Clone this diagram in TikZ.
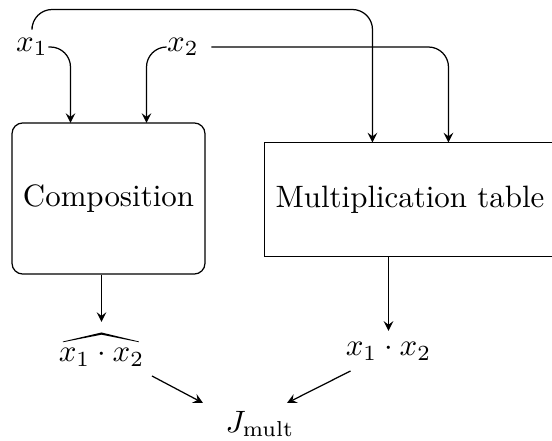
\documentclass[tikz,border=0pt]{standalone}
\usetikzlibrary{calc}
\begin{document}
\begin{tikzpicture}[x=0.3236pt,y=-0.3236pt,
  conn/.style={-stealth},
  rconn/.style={-stealth,rounded corners=6.5pt},
  lbl/.style={inner sep=0pt},
  compbox/.style={draw,rounded corners=3.5pt,minimum width=62.45pt,minimum height=48.9pt,inner sep=0pt},
  multbox/.style={draw,minimum width=94.2pt,minimum height=36.9pt,inner sep=0pt}]
\useasboundingbox (0,0) rectangle (552,441);
\node[lbl] (x1) at (32,47) {$x_1$};
\node[lbl] (x2) at (183,47) {$x_2$};
\node[compbox] (comp) at (108.5,198.5) {Composition};
\node[multbox] (mult) at (410,199.5) {Multiplication table};
\node (hat) at (101.5,357) {$x_1\cdot x_2$};
\fill ($(hat.center)+(-38.5,-15.5)$) -- ($(hat.center)+(0,-24.5)$) -- ($(hat.center)+(37.5,-15.5)$)
   -- ($(hat.center)+(37.5,-14.8)$) -- ($(hat.center)+(0,-22.3)$) -- ($(hat.center)+(-38.5,-14.8)$) -- cycle;
\node (prod) at (388.5,351) {$x_1\cdot x_2$};
\node (J) at (260,424) {$J_{\mathrm{mult}}$};
\coordinate (ca) at (70.5,123);
\coordinate (cb) at (146.5,123);
\coordinate (ma) at (372.5,142.5);
\coordinate (mb) at (448.5,142.5);
\coordinate (top) at (372.5,9.5);
\coordinate (hatin) at (101.5,322);
\draw[rconn] (x1.east) -| (ca);
\draw[rconn] (x2.west) -| (cb);
\draw[rconn] ([yshift=3.5pt]x1.north) |- (top) -- (ma);
\draw[rconn] ([xshift=3.9pt]x2.east) -| (mb);
\draw[conn] (comp.south -| hatin) -- (hatin);
\draw[conn] (mult.south -| prod.north) -- (prod.north);
\draw[conn] ($(hat.center)+(50.5,19)$) -- ($(J.center)+(-57,-21)$);
\draw[conn] ($(prod.center)+(-38,20)$) -- ($(J.center)+(27,-21)$);
\end{tikzpicture}
\end{document}
